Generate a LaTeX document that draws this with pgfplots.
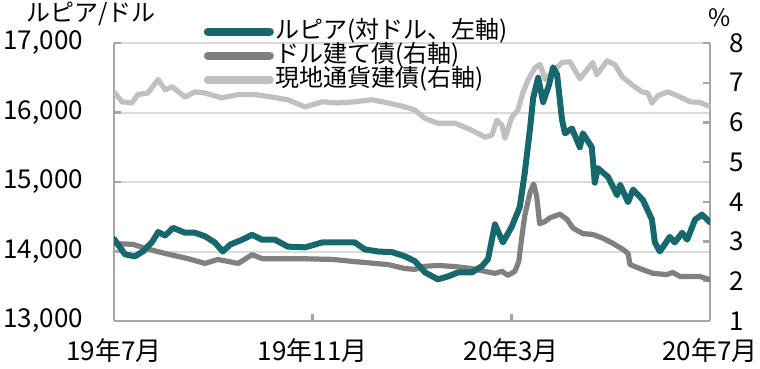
\documentclass[border=0pt]{standalone}
\usepackage{pgfplots}
\pgfplotsset{compat=1.18}
\usepackage{fontspec}
\setmainfont{Noto Sans CJK JP}
\definecolor{rupiah}{HTML}{17686C}
\definecolor{dgray}{HTML}{808080}
\definecolor{lgray}{HTML}{C0C0C0}
\definecolor{gridgray}{HTML}{DADADA}
\definecolor{axisgray}{HTML}{A6A6A6}

\pgfplotstableread{
x y
0.00 14180
0.22 13960
0.42 13930
0.58 14000
0.77 14140
0.89 14280
1.03 14230
1.19 14340
1.43 14270
1.63 14270
1.83 14220
2.03 14130
2.19 14000
2.34 14100
2.58 14170
2.78 14240
2.98 14170
3.24 14170
3.50 14070
3.85 14060
4.19 14130
4.59 14130
4.85 14130
5.05 14030
5.32 14000
5.60 13990
5.86 13930
6.06 13860
6.26 13700
6.52 13600
6.72 13640
6.93 13700
7.21 13700
7.41 13790
7.53 13890
7.67 14390
7.83 14130
8.01 14360
8.17 14640
8.27 15130
8.38 15790
8.44 16210
8.54 16500
8.64 16150
8.76 16400
8.84 16650
8.92 16550
9.02 15900
9.08 15700
9.22 15770
9.38 15500
9.44 15700
9.62 15500
9.68 14990
9.74 15200
9.95 15070
10.13 14810
10.19 14960
10.35 14710
10.45 14890
10.65 14740
10.83 14460
10.89 14130
10.99 14000
11.19 14210
11.29 14130
11.44 14270
11.54 14170
11.70 14460
11.84 14530
12.00 14420
}\rupiahdata

\pgfplotstableread{
x y
0.00 2.95
0.38 2.93
0.72 2.80
1.03 2.70
1.49 2.57
1.83 2.45
2.09 2.55
2.50 2.45
2.78 2.67
2.98 2.57
3.74 2.57
4.41 2.55
4.81 2.50
5.52 2.42
5.86 2.32
6.06 2.30
6.20 2.37
6.52 2.40
6.87 2.37
7.21 2.32
7.47 2.25
7.67 2.20
7.81 2.25
7.93 2.15
8.07 2.25
8.15 2.50
8.21 3.10
8.27 3.65
8.38 4.25
8.45 4.45
8.51 4.15
8.57 3.45
8.67 3.50
8.78 3.60
8.98 3.69
9.12 3.56
9.24 3.34
9.44 3.20
9.64 3.18
9.85 3.08
10.05 2.95
10.25 2.80
10.35 2.70
10.39 2.42
10.59 2.32
10.85 2.20
11.13 2.17
11.25 2.22
11.40 2.12
11.80 2.12
12.00 2.04
}\usdbond

\pgfplotstableread{
x y
0.00 6.77
0.16 6.52
0.36 6.49
0.48 6.70
0.68 6.74
0.89 7.08
1.03 6.82
1.17 6.90
1.43 6.64
1.63 6.77
1.83 6.74
2.17 6.62
2.50 6.70
2.84 6.70
3.18 6.64
3.50 6.57
3.85 6.39
4.19 6.52
4.51 6.49
4.85 6.52
5.19 6.57
5.52 6.49
5.86 6.39
6.06 6.31
6.26 6.10
6.52 5.98
6.87 5.98
7.21 5.80
7.47 5.63
7.61 5.68
7.71 6.06
7.81 5.93
7.87 5.60
8.01 6.13
8.13 6.31
8.23 6.74
8.34 7.08
8.48 7.38
8.58 7.46
8.68 7.08
8.82 7.25
9.02 7.51
9.18 7.53
9.38 7.10
9.64 7.51
9.72 7.20
9.93 7.55
10.09 7.45
10.23 7.15
10.43 6.95
10.63 6.77
10.75 6.74
10.83 6.49
10.95 6.67
11.15 6.77
11.40 6.64
11.60 6.52
11.80 6.50
12.00 6.40
}\localbond

\begin{document}
\begin{tikzpicture}
\pgfplotsset{
  common/.style={
    scale only axis, width=298pt, height=139pt,
    at={(0,0)}, anchor=south west,
    xmin=0, xmax=12,
    scaled x ticks=false, scaled y ticks=false,
    /pgf/number format/assume math mode=true,
    tick align=inside, major tick length=3.5pt,
    tick style={color=axisgray, line width=1.2pt},
    axis line style={color=axisgray, line width=1.2pt},
    ticklabel style={font=\fontsize{13}{13}\selectfont, text=black},
  }
}
% Axis A: left scale, grid, frame
\begin{axis}[common,
  ymin=13000, ymax=17000,
  axis x line*=bottom, axis y line*=left,
  ytick={13000,14000,15000,16000,17000},
  yticklabels={{13,000},{14,000},{15,000},{16,000},{17,000}},
  yticklabel style={xshift=-12pt},
  xtick={0,4,8,12},
  xticklabels={19年7月,19年11月,20年3月,20年7月},
  xticklabel style={yshift=-5pt},
  ymajorgrids, grid style={color=gridgray, line width=1pt},
  clip=false,
]
\node[font=\fontsize{12}{12}\selectfont, anchor=center] at (rel axis cs:0,1) [xshift=-11.5pt, yshift=14.5pt] {ルピア/ドル};
\node[font=\fontsize{12}{12}\selectfont, anchor=center] at (rel axis cs:1,1) [xshift=5pt, yshift=12.5pt] {\%};
\end{axis}
% Axis B: right scale, bonds
\begin{axis}[common,
  ymin=1, ymax=8,
  axis y line*=right, axis x line=none,
  ytick={1,2,3,4,5,6,7,8},
  yticklabel style={xshift=6pt},
]
\addplot[lgray, line width=2.6pt, line join=round, line cap=round] table[x=x,y=y] {\localbond};
\addplot[dgray, line width=2.6pt, line join=round, line cap=round] table[x=x,y=y] {\usdbond};
\end{axis}
% Axis C: rupiah on top, legend
\begin{axis}[common,
  ymin=13000, ymax=17000,
  hide axis,
  legend image code/.code={\draw[#1, line cap=round, line width=4pt] (0pt,0pt) -- (31pt,0pt);},
  legend style={at={(0.140,1.100)}, anchor=north west, draw=none, fill=none,
    font=\fontsize{12}{12}\selectfont, row sep=0pt, column sep=1pt,
    nodes={inner sep=0pt, text height=9.5pt, text depth=2.5pt}},
  legend cell align=left,
]
\addplot[rupiah, line width=3pt, line join=round, line cap=round] table[x=x,y=y] {\rupiahdata};
\addlegendentry{ルピア(対ドル、左軸)}
\addlegendimage{dgray}
\addlegendentry{ドル建て債(右軸)}
\addlegendimage{lgray}
\addlegendentry{現地通貨建債(右軸)}
\end{axis}
\pgfresetboundingbox
\useasboundingbox (-57pt,-24pt) rectangle (323pt,160.5pt);
\end{tikzpicture}
\end{document}
